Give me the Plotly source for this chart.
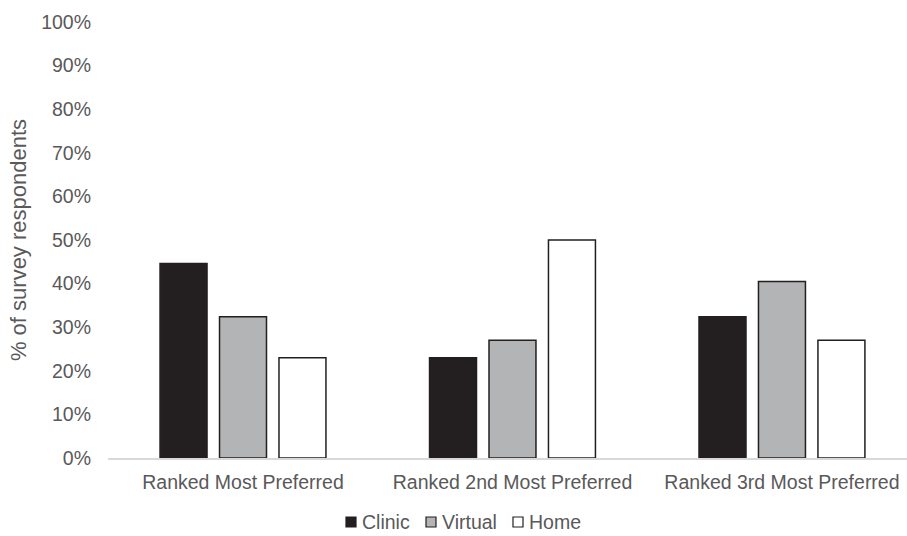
import plotly.graph_objects as go

categories = ["Ranked Most Preferred", "Ranked 2nd Most Preferred", "Ranked 3rd Most Preferred"]
clinic = [0.446, 0.230, 0.324]
virtual = [0.324, 0.270, 0.405]
home = [0.230, 0.500, 0.270]
y_ticks = [0, 0.1, 0.2, 0.3, 0.4, 0.5, 0.6, 0.7, 0.8, 0.9, 1.0]

outline = "#231f20"
text_color = "#595959"
font_family = "Liberation Sans, Arial, sans-serif"
font_size = 19.5

# plot-area geometry in pixels (used to place the legend key below the axis)
W, H = 907, 536
M_L, M_R, M_T, M_B = 108, 0, 22, 78
plot_w = W - M_L - M_R
plot_h = H - M_T - M_B


def px_x(px):
    return (px - M_L) / plot_w


def px_y(py):
    return (H - M_B - py) / plot_h


fig = go.Figure()
series = [
    ("Clinic", clinic, "#231f20"),
    ("Virtual", virtual, "#b3b4b6"),
    ("Home", home, "#ffffff"),
]
for name, values, fill in series:
    fig.add_trace(go.Bar(
        name=name,
        x=categories,
        y=values,
        showlegend=False,
        marker=dict(color=fill, line=dict(color=outline, width=1.5)),
    ))

# compact horizontal legend key: small square swatch followed by its label
key_left = [346, 426, 513]
key_size = 10
key_cy = 522
shapes = []
annotations = []
for (name, _, fill), left in zip(series, key_left):
    shapes.append(dict(
        type="rect", xref="paper", yref="paper",
        x0=px_x(left), x1=px_x(left + key_size),
        y0=px_y(key_cy + key_size / 2), y1=px_y(key_cy - key_size / 2),
        fillcolor=fill, line=dict(color=outline, width=1.2),
        layer="above",
    ))
    annotations.append(dict(
        text=name, xref="paper", yref="paper",
        x=px_x(left + key_size + 4), y=px_y(key_cy),
        xanchor="left", yanchor="middle", showarrow=False,
        font=dict(size=font_size, color=text_color),
    ))

fig.update_layout(
    width=W,
    height=H,
    margin=dict(l=M_L, r=M_R, t=M_T, b=M_B, autoexpand=False),
    paper_bgcolor="white",
    plot_bgcolor="white",
    barmode="group",
    bargap=0.338,
    bargroupgap=0.21,
    font=dict(family=font_family, size=font_size, color=text_color),
    showlegend=False,
    shapes=shapes,
    annotations=annotations,
    xaxis=dict(
        range=[-0.501, 2.464],
        showline=True,
        linecolor="#d9d9d9",
        linewidth=1.5,
        showgrid=False,
        ticks="",
        ticklabelstandoff=6,
        tickfont=dict(size=font_size, color=text_color),
    ),
    yaxis=dict(
        range=[0, 1],
        tickvals=y_ticks,
        tickformat=".0%",
        showgrid=False,
        zeroline=False,
        showline=False,
        ticks="",
        ticklabelstandoff=16,
        tickfont=dict(size=font_size, color=text_color),
        title=dict(text="% of survey respondents", standoff=8,
                   font=dict(size=22, color=text_color)),
    ),
)

fig.write_html("out.html")
